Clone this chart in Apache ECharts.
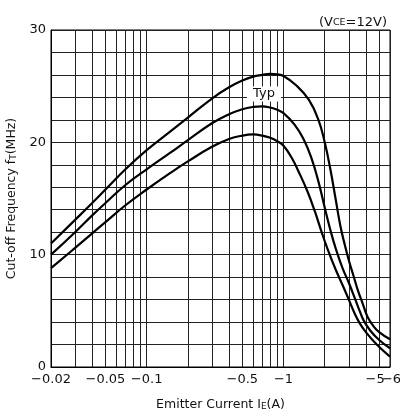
<!DOCTYPE html>
<html><head><meta charset="utf-8">
<script src="https://cdn.jsdelivr.net/npm/echarts@6/dist/echarts.min.js"></script>
<style>html,body{margin:0;padding:0;background:#fff}#c{width:400px;height:411px}</style>
</head><body><div id="c"></div>
<script>
// Emitter current magnitude |IE| (A); the axis shows them as negative values
const currentTop = [0.02,0.03,0.04,0.05,0.07,0.1,0.15,0.2,0.3,0.4,0.5,0.6,0.7,0.8,0.9,1.0,1.23,1.53,1.8,2.0,2.2,2.4,2.6,2.8,3.0,3.25,3.5,3.8,4.1,4.5,5.0,6.0];
const freqTop    = [11.0,13.1,14.6,15.8,17.6,19.3,21.0,22.2,23.9,24.9,25.5,25.85,26.0,26.1,26.05,25.9,25.1,23.8,22.0,20.0,17.6,15.0,12.6,10.9,9.5,8.1,6.8,5.6,4.5,3.7,3.1,2.47];

const currentTyp = [0.02,0.03,0.04,0.05,0.07,0.1,0.15,0.2,0.3,0.4,0.5,0.6,0.7,0.8,0.9,1.0,1.2,1.4,1.6,1.8,2.0,2.2,2.4,2.7,3.0,3.35,3.6,3.85,4.3,5.0,6.0];
const freqTyp    = [10.0,12.0,13.5,14.6,16.2,17.6,19.1,20.2,21.7,22.5,22.95,23.15,23.2,23.1,22.9,22.6,21.6,20.3,18.6,16.5,14.2,12.2,10.6,8.8,7.5,6.0,5.0,4.15,3.25,2.4,1.67];

const currentMin = [0.02,0.03,0.04,0.05,0.07,0.1,0.15,0.2,0.3,0.4,0.5,0.6,0.7,0.8,0.9,1.0,1.15,1.3,1.5,1.7,1.9,2.1,2.4,2.7,3.0,3.3,3.6,4.0,4.8,6.0];
const freqMin    = [8.8,10.6,11.9,12.9,14.4,15.8,17.3,18.3,19.6,20.3,20.6,20.7,20.6,20.4,20.1,19.7,18.6,17.3,15.6,13.8,12.0,10.5,8.7,7.3,6.0,4.8,3.9,3.1,2.0,0.92];

const xGridValues = [0.02,0.03,0.04,0.05,0.06,0.07,0.08,0.09,0.1,0.2,0.3,0.4,0.5,0.6,0.7,0.8,0.9,1,2,3,4,5,6];
const xTickValues = [0.02,0.05,0.1,0.5,1,5];
const xTickLabels = ['−0.02','−0.05','−0.1','−0.5','−1','−5'];
const xEndTickValues = [6];
const xEndTickLabels = ['−6'];
const yTickValues = [0,10,20,30];
const typLabelPos = [0.72, 24.3];

const FONT = 'DejaVu Sans';
const pair = (xs, ys) => xs.map((x, i) => [x, ys[i]]);
const pick = (vals, labels) => v => {
  const i = vals.findIndex(t => Math.abs(t - v) / t < 1e-6);
  return i >= 0 ? labels[i] : '';
};

const chart = echarts.init(document.getElementById('c'), null, {renderer: 'canvas'});
const lineSeries = (name, xs, ys, extra) => Object.assign({
  name, type: 'line', data: pair(xs, ys), smooth: 0.45, symbol: 'none',
  lineStyle: {color: '#000', width: 2.2}, z: 3
}, extra || {});
const txt = (size) => ({fontFamily: FONT, fontSize: size, fontWeight: 'normal', color: '#111', lineHeight: 15, verticalAlign: 'bottom'});
const baseX = {type: 'log', logBase: 10, min: 0.02, max: 6, gridIndex: 0, position: 'bottom'};

chart.setOption({
  animation: false,
  backgroundColor: '#fff',
  title: {
    text: '{a|(V}{s|CE}{a|=12V)}', right: 8, top: 9,
    textStyle: {fontWeight: 'normal', rich: {a: txt(13), s: Object.assign(txt(9.5), {padding: [0, 0, 1, 0]})}}
  },
  grid: {left: 51, right: 10, top: 30, bottom: 44, containLabel: false, outerBoundsMode: 'none',
         show: true, borderColor: '#000', borderWidth: 1, backgroundColor: 'transparent'},
  xAxis: [
    Object.assign({}, baseX, {
      name: '{a|Emitter Current I}{s|E}{a|(A)}', nameLocation: 'middle', nameGap: 29,
      nameTextStyle: {rich: {a: txt(12.5), s: txt(9)}},
      axisLine: {show: true, lineStyle: {color: '#000', width: 1}},
      axisTick: {show: false, customValues: xGridValues},
      splitLine: {show: true, lineStyle: {color: '#222', width: 1}},
      minorTick: {show: false}, minorSplitLine: {show: false},
      axisLabel: {
        customValues: xTickValues, margin: 6, hideOverlap: false,
        fontFamily: FONT, fontSize: 13, color: '#111',
        formatter: v => {
          const s = pick(xTickValues, xTickLabels)(v);
          return Math.abs(v - 5) < 1e-6 ? '{l|' + s + '}' : s;
        },
        rich: {l: {fontFamily: FONT, fontSize: 13, color: '#111', padding: [0, 8, 0, 0]}}
      }
    }),
    Object.assign({}, baseX, {
      axisLine: {show: false}, axisTick: {show: false}, splitLine: {show: false},
      minorTick: {show: false}, minorSplitLine: {show: false},
      axisLabel: {
        customValues: xEndTickValues, margin: 6, hideOverlap: false, showMaxLabel: true,
        fontFamily: FONT, fontSize: 13, color: '#111',
        formatter: v => '{r|' + pick(xEndTickValues, xEndTickLabels)(v) + '}',
        rich: {r: {fontFamily: FONT, fontSize: 13, color: '#111', padding: [0, 0, 0, 3]}}
      }
    })
  ],
  yAxis: {
    type: 'value', min: 0, max: 30, interval: 2,
    name: '{a|Cut-off Frequency f}{s|T}{a|(MHz)}', nameLocation: 'middle', nameGap: 33, nameRotate: 90,
    nameTextStyle: {rich: {a: txt(12.5), s: txt(9)}},
    axisLine: {show: true, lineStyle: {color: '#000', width: 1}},
    axisTick: {show: false},
    splitLine: {show: true, lineStyle: {color: '#222', width: 1}},
    axisLabel: {customValues: yTickValues, margin: 5, fontFamily: FONT, fontSize: 13, color: '#111'}
  },
  series: [
    lineSeries('max', currentTop, freqTop),
    lineSeries('Typ', currentTyp, freqTyp, {
      markPoint: {
        symbol: 'rect', symbolSize: [34, 15], silent: true,
        itemStyle: {color: '#fff'},
        label: {show: true, formatter: 'Typ', fontFamily: FONT, fontSize: 13, color: '#111', position: 'inside'},
        data: [{coord: typLabelPos}]
      }
    }),
    lineSeries('min', currentMin, freqMin)
  ]
});
</script></body></html>
